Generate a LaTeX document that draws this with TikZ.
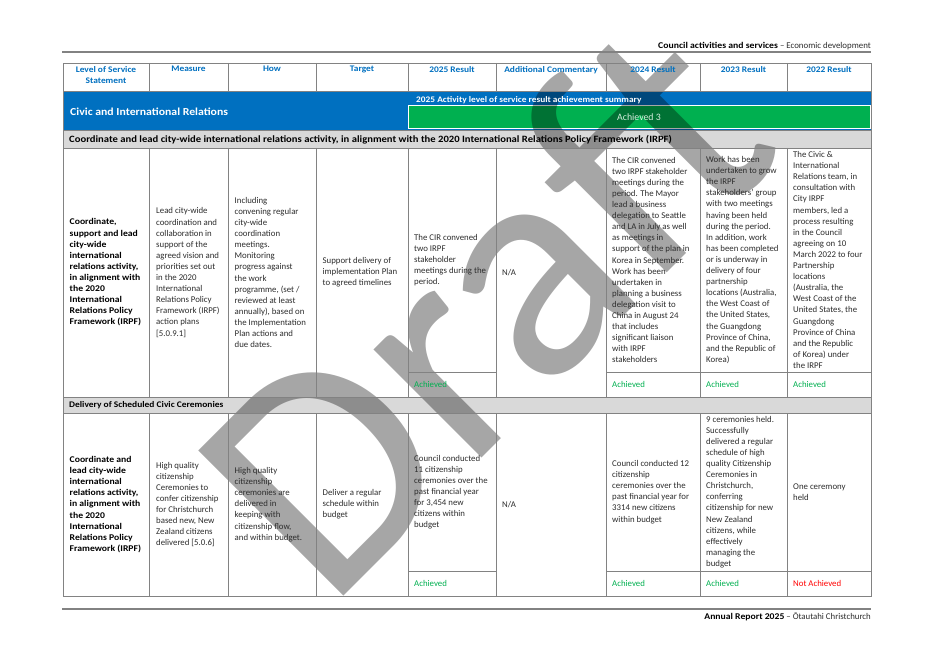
\documentclass[tikz,border=0pt]{standalone}
\usepackage{fontspec}
\setmainfont{Carlito}[BoldFeatures={FakeStretch=1.1}]
\newfontfamily\wmfont{Carlito}
\definecolor{bandblue}{RGB}{0,112,192}
\definecolor{boxgreen}{RGB}{0,176,80}
\definecolor{rowgray}{RGB}{217,217,217}
\definecolor{gridgray}{RGB}{130,130,130}
\definecolor{bodygray}{RGB}{45,45,45}
\definecolor{achgreen}{RGB}{0,176,80}
\definecolor{notred}{RGB}{255,0,0}
\definecolor{summarytext}{RGB}{215,238,222}
\newcommand{\bodyfs}{\fontsize{8.8bp}{11.1bp}\selectfont}
\tikzset{
  grid/.style={draw=gridgray, line width=0.9bp},
  pagerule/.style={draw=gridgray, line width=1.3bp},
  hdr/.style={anchor=north, align=center, inner sep=0, text=bandblue, font=\fontsize{8.55bp}{11.1bp}\selectfont\bfseries},
  celltext/.style={anchor=west, align=left, inner sep=0, text=bodygray, font=\bodyfs},
  boldcell/.style={anchor=west, align=left, inner sep=0, text=black, font=\bodyfs\bfseries},
  ach/.style={anchor=west, inner sep=0, text=achgreen, font=\bodyfs},
  notach/.style={anchor=west, inner sep=0, text=notred, font=\bodyfs},
  rowtitle/.style={anchor=west, inner sep=0, text=black, font=\fontsize{#1}{11bp}\selectfont\bfseries},
}
\begin{document}
\begin{tikzpicture}[x=1bp,y=-1bp]
\useasboundingbox[fill=white] (0,0) rectangle (934,661);
% fills
\fill[bandblue] (63,91) rectangle (871,130);
\fill[rowgray] (63,130) rectangle (871,148);
\fill[rowgray] (63,397) rectangle (871,413);
\filldraw[fill=boxgreen, draw=white, line width=1bp] (408.5,106) rectangle (870,128.5);
% watermark
\node[rotate=45, anchor=base west, inner sep=0, text=black, text opacity=0.35,
      font=\fontsize{320bp}{320bp}\selectfont\wmfont] (wm) at (328,612) {Draft};
% page rules
\draw[pagerule] (62,52) -- (871,52);
\draw[pagerule] (62,609) -- (871,609);
% grid
\draw[grid] (63,63) rectangle (871,596);
\draw[grid] (63,91) -- (871,91);
\draw[grid] (63,130) -- (871,130);
\draw[grid] (63,148) -- (871,148);
\draw[grid] (63,397) -- (871,397);
\draw[grid] (63,413) -- (871,413);
\foreach \x in {149,228,316,408,496,606,700,787}{
  \draw[grid] (\x,63) -- (\x,91);
  \draw[grid] (\x,148) -- (\x,397);
  \draw[grid] (\x,413) -- (\x,596);
}
\draw[grid] (408,372) -- (496,372);
\draw[grid] (606,372) -- (871,372);
\draw[grid] (408,571) -- (496,571);
\draw[grid] (606,571) -- (871,571);
% page header / footer
\node[anchor=east, inner sep=0, font=\fontsize{8.85bp}{11bp}\selectfont, text=black] (pagehead) at (871,46)
  {\textbf{Council activities and services} \textcolor{bodygray}{– Economic development}};
\node[anchor=east, inner sep=0, font=\fontsize{8.8bp}{11bp}\selectfont, text=black] (pagefoot) at (871,617)
  {\textbf{Annual Report 2025} \textcolor{bodygray}{– Ōtautahi Christchurch}};
% header row
\node[hdr] (h1) at (106,66) {Level of Service\\Statement};
\node[hdr] (h2) at (188.5,66) {Measure};
\node[hdr] (h3) at (272,66) {How};
\node[hdr] (h4) at (362,66) {Target};
\node[hdr] (h5) at (452,66) {2025 Result};
\node[hdr] (h6) at (551,66) {Additional Commentary};
\node[hdr] (h7) at (653,66) {2024 Result};
\node[hdr] (h8) at (743.5,66) {2023 Result};
\node[hdr] (h9) at (829,66) {2022 Result};
% band
\node[anchor=west, inner sep=0, text=white, font=\fontsize{10.7bp}{13bp}\selectfont\bfseries] (band) at (70,111.5)
  {Civic and International Relations};
\node[anchor=west, inner sep=0, text=white, font=\fontsize{8.5bp}{11bp}\selectfont\bfseries] (summary) at (416,100)
  {2025 Activity level of service result achievement summary};
\node[anchor=center, inner sep=0, text=summarytext, font=\fontsize{9.8bp}{12bp}\selectfont] (achsum) at (639,117.5)
  {Achieved 3};
% section rows
\node[rowtitle=9.66bp] (sec1) at (69,140)
  {Coordinate and lead city-wide international relations activity, in alignment with the 2020 International Relations Policy Framework (IRPF)};
\node[rowtitle=8.6bp] (sec2) at (69,405.5) {Delivery of Scheduled Civic Ceremonies};
% row 1
\node[boldcell] (r1c1) at (69.5,272.5) {Coordinate,\\support and lead\\city-wide\\international\\relations activity,\\in alignment with\\the 2020\\International\\Relations Policy\\Framework (IRPF)};
\node[celltext] (r1c2) at (156,272.5) {Lead city-wide\\coordination and\\collaboration in\\support of the\\agreed vision and\\priorities set out\\in the 2020\\International\\Relations Policy\\Framework (IRPF)\\action plans\\{[5.0.9.1]}};
\node[celltext] (r1c3) at (234.5,272.5) {Including\\convening regular\\city-wide\\coordination\\meetings.\\Monitoring\\progress against\\the work\\programme, (set /\\reviewed at least\\annually), based on\\the Implementation\\Plan actions and\\due dates.};
\node[celltext] (r1c4) at (322.5,272.5) {Support delivery of\\implementation Plan\\to agreed timelines};
\node[celltext] (r1c5) at (414,260) {The CIR convened\\two IRPF\\stakeholder\\meetings during the\\period.};
\node[ach] (r1c5a) at (414,384.5) {Achieved};
\node[celltext] (r1c6) at (502,272.5) {N/A};
\node[celltext] (r1c7) at (612,260) {The CIR convened\\two IRPF stakeholder\\meetings during the\\period. The Mayor\\lead a business\\delegation to Seattle\\and LA in July as well\\as meetings in\\support of the plan in\\Korea in September.\\Work has been\\undertaken in\\planning a business\\delegation visit to\\China in August 24\\that includes\\significant liaison\\with IRPF\\stakeholders};
\node[ach] (r1c7a) at (612,384.5) {Achieved};
\node[celltext] (r1c8) at (706,260) {Work has been\\undertaken to grow\\the IRPF\\stakeholders' group\\with two meetings\\having been held\\during the period.\\In addition, work\\has been completed\\or is underway in\\delivery of four\\partnership\\locations (Australia,\\the West Coast of\\the United States,\\the Guangdong\\Province of China,\\and the Republic of\\Korea)};
\node[ach] (r1c8a) at (706,384.5) {Achieved};
\node[celltext] (r1c9) at (793,260) {The Civic \&\\International\\Relations team, in\\consultation with\\City IRPF\\members, led a\\process resulting\\in the Council\\agreeing on 10\\March 2022 to four\\Partnership\\locations\\(Australia, the\\West Coast of the\\United States, the\\Guangdong\\Province of China\\and the Republic\\of Korea) under\\the IRPF};
\node[ach] (r1c9a) at (793,384.5) {Achieved};
% row 2
\node[boldcell] (r2c1) at (69.5,504.5) {Coordinate and\\lead city-wide\\international\\relations activity,\\in alignment with\\the 2020\\International\\Relations Policy\\Framework (IRPF)};
\node[celltext] (r2c2) at (156,504.5) {High quality\\citizenship\\Ceremonies to\\confer citizenship\\for Christchurch\\based new, New\\Zealand citizens\\delivered {[5.0.6]}};
\node[celltext] (r2c3) at (234.5,504.5) {High quality\\citizenship\\ceremonies are\\delivered in\\keeping with\\citizenship flow,\\and within budget.};
\node[celltext] (r2c4) at (322.5,504.5) {Deliver a regular\\schedule within\\budget};
\node[celltext] (r2c5) at (414,492) {Council conducted\\11 citizenship\\ceremonies over the\\past financial year\\for 3,454 new\\citizens within\\budget};
\node[ach] (r2c5a) at (414,583.5) {Achieved};
\node[celltext] (r2c6) at (502,504.5) {N/A};
\node[celltext] (r2c7) at (612,492) {Council conducted 12\\citizenship\\ceremonies over the\\past financial year for\\3314 new citizens\\within budget};
\node[ach] (r2c7a) at (612,583.5) {Achieved};
\node[celltext] (r2c8) at (706,492) {9 ceremonies held.\\Successfully\\delivered a regular\\schedule of high\\quality Citizenship\\Ceremonies in\\Christchurch,\\conferring\\citizenship for new\\New Zealand\\citizens, while\\effectively\\managing the\\budget};
\node[ach] (r2c8a) at (706,583.5) {Achieved};
\node[celltext] (r2c9) at (793,492) {One ceremony\\held};
\node[notach] (r2c9a) at (793,583.5) {Not Achieved};
\end{tikzpicture}
\end{document}
